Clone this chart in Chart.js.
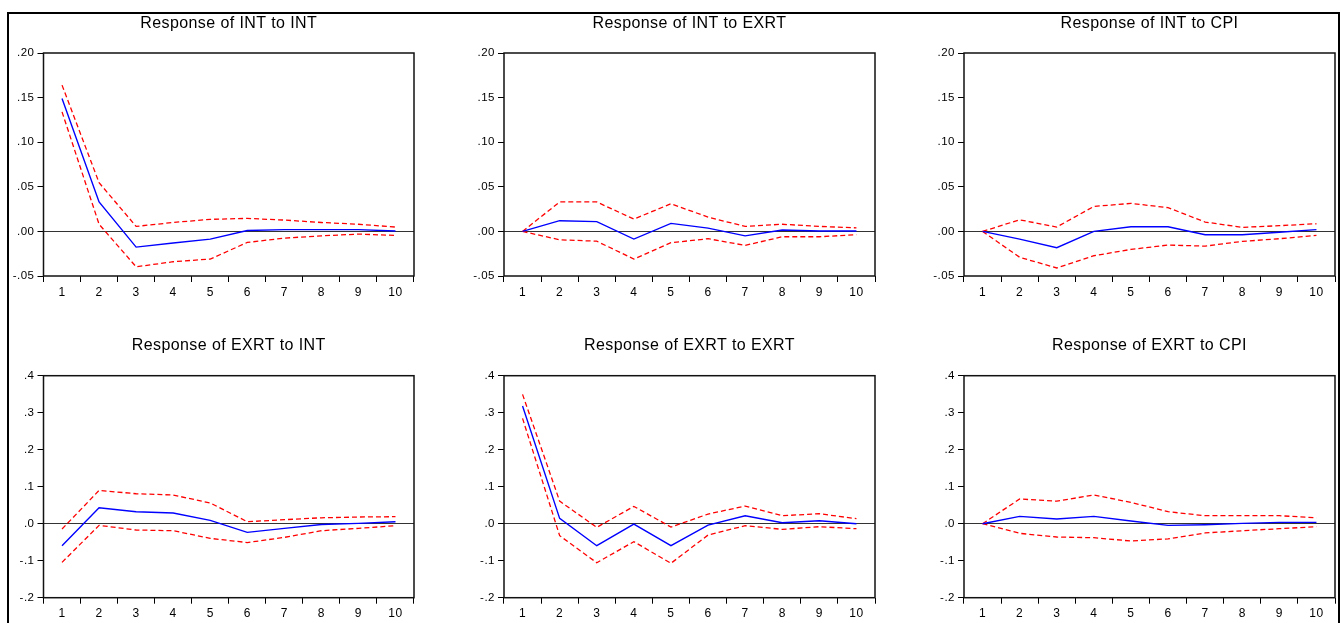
<!DOCTYPE html>
<html>
<head>
<meta charset="utf-8">
<script src="https://cdn.jsdelivr.net/npm/chart.js@4.4.0/dist/chart.umd.min.js"></script>
<style>
  html, body { margin: 0; padding: 0; background: #fff; overflow: hidden; }
  body { width: 1341px; height: 623px; position: relative; }
  #frame { position: absolute; left: 7px; top: 12px; width: 1329px; height: 700px;
           border: 2px solid #000; border-bottom: none; }
  canvas { position: absolute; }
</style>
</head>
<body>
<div id="frame"></div>
<canvas id="c1"></canvas>
<canvas id="c2"></canvas>
<canvas id="c3"></canvas>
<canvas id="c4"></canvas>
<canvas id="c5"></canvas>
<canvas id="c6"></canvas>
<script>
// periods and y tick labels
const periods = ['1', '2', '3', '4', '5', '6', '7', '8', '9', '10'];
const intTicks = [-0.05, 0.00, 0.05, 0.10, 0.15, 0.20];
const exrtTicks = [-0.2, -0.1, 0.0, 0.1, 0.2, 0.3, 0.4];

// Response of INT to INT
const intIntResp  = [0.149, 0.033, -0.0176, -0.013, -0.0086, 0.001, 0.002, 0.002, 0.002, 0.0004];
const intIntUpper = [0.164, 0.0546, 0.0056, 0.010, 0.0135, 0.0146, 0.0127, 0.010, 0.008, 0.0049];
const intIntLower = [0.134, 0.008, -0.0397, -0.034, -0.031, -0.0124, -0.0075, -0.005, -0.003, -0.0045];

// Response of INT to EXRT
const intExrtResp  = [0, 0.012, 0.011, -0.0086, 0.009, 0.0037, -0.005, 0.0015, 0.0004, 0.0004];
const intExrtUpper = [0, 0.033, 0.033, 0.0138, 0.031, 0.016, 0.0056, 0.008, 0.0056, 0.004];
const intExrtLower = [0, -0.0094, -0.011, -0.031, -0.0127, -0.0082, -0.0157, -0.006, -0.006, -0.0037];

// Response of INT to CPI
const intCpiResp  = [0, -0.0086, -0.0183, 0, 0.0052, 0.0052, -0.0037, -0.0037, -0.001, 0.002];
const intCpiUpper = [0, 0.013, 0.0049, 0.028, 0.0314, 0.0266, 0.0105, 0.0045, 0.0064, 0.0086];
const intCpiLower = [0, -0.029, -0.041, -0.0273, -0.0202, -0.0153, -0.0165, -0.0112, -0.0082, -0.0045];

// Response of EXRT to INT
const exrtIntResp  = [-0.0595, 0.043, 0.0324, 0.029, 0.009, -0.0234, -0.0126, -0.002, 0.001, 0.0054];
const exrtIntUpper = [-0.0144, 0.090, 0.081, 0.0775, 0.056, 0.0054, 0.0108, 0.016, 0.018, 0.019];
const exrtIntLower = [-0.1045, -0.0045, -0.017, -0.019, -0.0396, -0.051, -0.037, -0.019, -0.0126, -0.0054];

// Response of EXRT to EXRT
const exrtExrtResp  = [0.318, 0.0144, -0.0595, -0.001, -0.0595, -0.0036, 0.0216, 0.0027, 0.0081, 0];
const exrtExrtUpper = [0.3495, 0.061, -0.0099, 0.0468, -0.009, 0.026, 0.0477, 0.0216, 0.027, 0.0135];
const exrtExrtLower = [0.2847, -0.0324, -0.1054, -0.0486, -0.107, -0.0306, -0.0054, -0.0153, -0.0081, -0.0135];

// Response of EXRT to CPI
const exrtCpiResp  = [0, 0.0198, 0.0126, 0.0198, 0.0072, -0.0045, -0.0027, 0.001, 0.0036, 0.0036];
const exrtCpiUpper = [0, 0.0667, 0.061, 0.0775, 0.0577, 0.0324, 0.0216, 0.0216, 0.0216, 0.016];
const exrtCpiLower = [0, -0.026, -0.036, -0.0378, -0.0468, -0.041, -0.025, -0.019, -0.0135, -0.0081];

const FONT = "'Liberation Sans', Arial, sans-serif";

// box around plot area, title centred over the plot area, EViews-like letter spacing
const plotBox = {
  id: 'plotBox',
  beforeDraw(chart) { chart.ctx.letterSpacing = '0.5px'; },
  afterDatasetsDraw(chart, args, opts) {
    const { ctx, chartArea: a } = chart;
    ctx.save();
    ctx.strokeStyle = '#111';
    ctx.lineWidth = 1.5;
    ctx.strokeRect(a.left, a.top, a.right - a.left, a.bottom - a.top);
    ctx.letterSpacing = '0.4px';
    ctx.fillStyle = '#000';
    ctx.font = '16px ' + FONT;
    ctx.textAlign = 'center';
    ctx.textBaseline = 'middle';
    ctx.fillText(opts.title, (a.left + a.right) / 2, opts.titleY);
    ctx.restore();
  }
};

function makePanel(id, box, title, resp, upper, lower, ticks, decimals) {
  const el = document.getElementById(id);
  el.width = box.w;
  el.height = box.h;
  el.style.left = box.x + 'px';
  el.style.top = box.y + 'px';
  el.style.width = box.w + 'px';
  el.style.height = box.h + 'px';

  const dashed = { borderColor: '#ff0000', borderWidth: 1.3, borderDash: [5, 3],
                   pointRadius: 0, tension: 0, fill: false };

  new Chart(el, {
    type: 'line',
    data: {
      labels: periods,
      datasets: [
        { data: resp, borderColor: '#0000ff', borderWidth: 1.4, pointRadius: 0, tension: 0, fill: false },
        Object.assign({ data: upper }, dashed),
        Object.assign({ data: lower }, dashed)
      ]
    },
    options: {
      responsive: false,
      animation: false,
      devicePixelRatio: 1,
      layout: { padding: { left: 0, right: box.padR, top: box.areaTop, bottom: 0 } },
      plugins: {
        legend: { display: false },
        tooltip: { enabled: false },
        title: { display: false },
        plotBox: { title: title, titleY: box.titleY }
      },
      scales: {
        x: {
          offset: true,
          grid: { offset: true, drawOnChartArea: false, color: '#000', tickColor: '#000', tickLength: 6, lineWidth: 1 },
          border: { display: false },
          ticks: { color: '#000', font: { family: FONT, size: 12 }, padding: 3, autoSkip: false, maxRotation: 0 },
          afterFit(s) { s.height = box.xh; }
        },
        y: {
          min: ticks[0],
          max: ticks[ticks.length - 1],
          grid: {
            drawOnChartArea: true,
            tickLength: 6,
            tickColor: '#000',
            lineWidth: 1,
            color: (c) => (c.tick && Math.abs(c.tick.value) < 1e-9) ? '#333' : 'rgba(0,0,0,0)'
          },
          border: { display: false },
          ticks: {
            stepSize: ticks[1] - ticks[0],
            color: '#000',
            font: { family: FONT, size: 11.5 },
            padding: 3,
            callback: (v) => Number(v).toFixed(decimals).replace('0.', '.')
          },
          afterFit(s) { s.width = box.yw; }
        }
      }
    },
    plugins: [plotBox]
  });
}

const topRow = { y: 0, h: 300, titleY: 23.8, areaTop: 53, xh: 24 };
const botRow = { y: 300, h: 323, titleY: 45.5, areaTop: 75.7, xh: 25.3 };
const col1 = { x: 0,   w: 440, yw: 43.5, padR: 26 };
const col2 = { x: 460, w: 440, yw: 44,   padR: 25 };
const col3 = { x: 920, w: 421, yw: 44,   padR: 6 };

makePanel('c1', Object.assign({}, topRow, col1), 'Response of INT to INT', intIntResp, intIntUpper, intIntLower, intTicks, 2);
makePanel('c2', Object.assign({}, topRow, col2), 'Response of INT to EXRT', intExrtResp, intExrtUpper, intExrtLower, intTicks, 2);
makePanel('c3', Object.assign({}, topRow, col3), 'Response of INT to CPI', intCpiResp, intCpiUpper, intCpiLower, intTicks, 2);
makePanel('c4', Object.assign({}, botRow, col1), 'Response of EXRT to INT', exrtIntResp, exrtIntUpper, exrtIntLower, exrtTicks, 1);
makePanel('c5', Object.assign({}, botRow, col2), 'Response of EXRT to EXRT', exrtExrtResp, exrtExrtUpper, exrtExrtLower, exrtTicks, 1);
makePanel('c6', Object.assign({}, botRow, col3), 'Response of EXRT to CPI', exrtCpiResp, exrtCpiUpper, exrtCpiLower, exrtTicks, 1);
</script>
</body>
</html>
